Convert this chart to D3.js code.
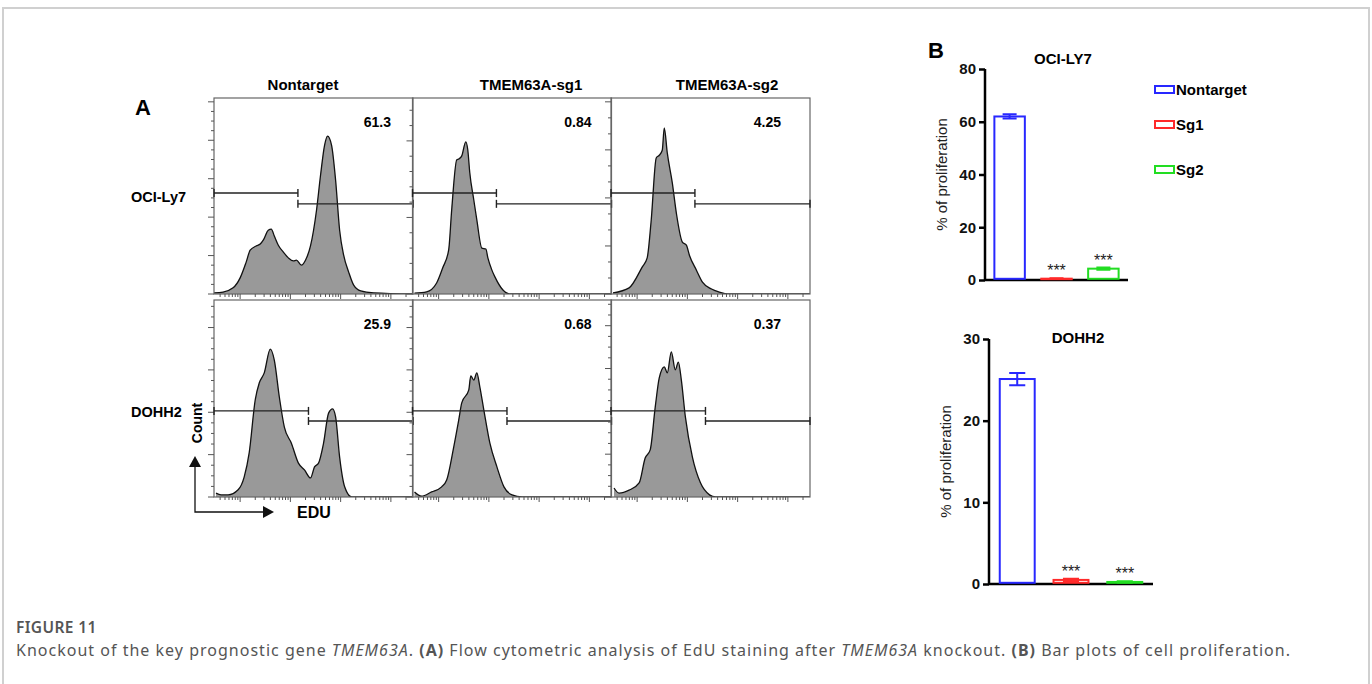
<!DOCTYPE html>
<html>
<head>
<meta charset="utf-8">
<script src="https://cdn.jsdelivr.net/npm/d3@7"></script>
<style>
  body { margin: 0; background: #fff; }
  svg { display: block; }
  .arial { font-family: "Liberation Sans", Arial, sans-serif; }
</style>
</head>
<body>
<svg id="fig" width="1372" height="684"></svg>
<script>
// ---- panel A data (x = log10 EDU intensity, y = count) ----
const columns = ["Nontarget", "TMEM63A-sg1", "TMEM63A-sg2"];
const rows = ["OCI-Ly7", "DOHH2"];
const gatePct = [["61.3", "0.84", "4.25"], ["25.9", "0.68", "0.37"]];
const gateCut = [3.15, 3.36];
const countMax = [[510, 640, 510], [465, 465, 460]];
const countStep = [[100, 250, 125], [100, 100, 100]];
const countMinor = [[4, 5, 3], [4, 4, 4]];

const histLy7Non = [[1.48,3],[1.66,5],[1.86,16],[2.00,42],[2.12,83],[2.20,114],[2.32,125],[2.40,130],
  [2.46,140],[2.56,166],[2.62,169],[2.68,151],[2.76,127],[2.86,109],[2.96,94],[3.06,86],[3.12,88],
  [3.22,75],[3.30,88],[3.40,125],[3.52,218],[3.60,309],[3.68,387],[3.74,411],[3.82,387],[3.90,296],
  [3.98,166],[4.06,101],[4.16,57],[4.26,23],[4.40,8],[4.66,3],[5.44,0]];
const histLy7Sg1 = [[1.52,3],[1.76,7],[1.96,36],[2.08,85],[2.20,144],[2.26,275],[2.36,438],[2.40,441],
  [2.46,451],[2.54,497],[2.58,471],[2.62,396],[2.70,307],[2.76,242],[2.86,150],[2.94,147],[2.98,118],
  [3.06,78],[3.12,56],[3.28,13],[3.42,0],[5.44,0]];
const histLy7Sg2 = [[1.52,3],[1.84,16],[2.10,70],[2.20,94],[2.28,192],[2.38,354],[2.44,361],[2.50,374],
  [2.54,432],[2.60,367],[2.70,289],[2.78,211],[2.90,135],[2.98,127],[3.04,101],[3.18,62],[3.30,31],
  [3.48,13],[3.64,5],[3.80,0],[5.44,0]];
const histDohNon = [[1.52,9],[1.62,5],[1.76,5],[1.96,17],[2.08,47],[2.18,104],[2.30,229],[2.38,269],
  [2.48,293],[2.60,349],[2.68,323],[2.78,236],[2.88,165],[3.02,127],[3.16,80],[3.28,64],[3.40,45],
  [3.48,71],[3.56,80],[3.66,127],[3.76,198],[3.84,208],[3.90,189],[3.98,94],[4.08,24],[4.22,0],[5.44,0]];
const histDohSg1 = [[1.52,12],[1.66,2],[1.86,12],[2.06,24],[2.16,40],[2.30,118],[2.40,182],[2.46,222],
  [2.60,253],[2.64,286],[2.70,276],[2.76,293],[2.82,260],[2.90,205],[3.02,127],[3.16,71],[3.30,24],
  [3.46,5],[3.66,0],[5.44,0]];
const histDohSg2 = [[1.54,21],[1.64,9],[1.84,16],[2.04,33],[2.16,91],[2.26,110],[2.36,210],[2.44,278],
  [2.54,304],[2.60,290],[2.68,339],[2.76,297],[2.82,315],[2.88,273],[2.96,187],[3.10,93],[3.26,33],
  [3.44,5],[3.56,0],[5.44,0]];
const histograms = [[histLy7Non, histLy7Sg1, histLy7Sg2], [histDohNon, histDohSg1, histDohSg2]];

// ---- panel B data ----
const groups = ["Nontarget", "Sg1", "Sg2"];
const ly7Mean = [62, 0.5, 4.3];
const ly7Err = [0.8, 0.15, 0.4];
const dohMean = [25.1, 0.5, 0.25];
const dohErr = [0.75, 0.15, 0.08];
const groupColors = ["#2828ff", "#ff2a2a", "#22dd22"];

const svg = d3.select("#fig");

// outer figure frame
svg.append("path").attr("d", "M3,700 V8 H1369 V700")
  .attr("fill", "none").attr("stroke", "#d0d0d0").attr("stroke-width", 2);

// ---------------- Panel A ----------------
const gA = svg.append("g").attr("class", "arial");
gA.append("text").text("A").attr("x", 135).attr("y", 115)
  .attr("font-size", 22).attr("font-weight", 700);

const colLeft = [214, 412.5, 611];
const colW = 199;
const rowTop = [98, 300];
const rowH = [196, 197];
const titleX = [303, 531, 727];
const pctRight = [22, 20, 29];
const gateLevel = [[0.515, 0.46], [0.437, 0.386]]; // fraction of panel height

columns.forEach((c, j) => {
  gA.append("text").text(c).attr("x", titleX[j]).attr("y", 90)
    .attr("text-anchor", "middle").attr("font-size", 15).attr("font-weight", 700);
});
rows.forEach((r, i) => {
  gA.append("text").text(r).attr("x", 131).attr("y", i === 0 ? 202 : 417)
    .attr("font-size", 14.5).attr("font-weight", 700);
});

const logMinor = [];
for (let k = 1; k <= 5; k++) for (let m = 1; m <= 9; m++) logMinor.push(Math.log10(m * Math.pow(10, k)));

rows.forEach((r, i) => {
  columns.forEach((c, j) => {
    const x = d3.scaleLinear().domain([1.48, 5.44]).range([colLeft[j], colLeft[j] + colW]);
    const y = d3.scaleLinear().domain([0, countMax[i][j]]).range([rowTop[i] + rowH[i], rowTop[i]]);
    const p = gA.append("g");
    const clipId = `clip${i}${j}`;
    p.append("clipPath").attr("id", clipId).append("rect")
      .attr("x", x.range()[0]).attr("y", rowTop[i]).attr("width", colW).attr("height", rowH[i]);

    const area = d3.area().x(d => x(d[0])).y0(y(0)).y1(d => y(d[1])).curve(d3.curveMonotoneX);
    const line = d3.line().x(d => x(d[0])).y(d => y(d[1])).curve(d3.curveMonotoneX);
    p.append("path").datum(histograms[i][j]).attr("d", area)
      .attr("fill", "#999").attr("clip-path", `url(#${clipId})`);
    p.append("path").datum(histograms[i][j]).attr("d", line)
      .attr("fill", "none").attr("stroke", "#111").attr("stroke-width", 1.3)
      .attr("clip-path", `url(#${clipId})`);

    p.append("rect").attr("x", x.range()[0]).attr("y", rowTop[i]).attr("width", colW).attr("height", rowH[i])
      .attr("fill", "none").attr("stroke", "#666").attr("stroke-width", 1.2);

    // y ticks (left, outward)
    const step = countStep[i][j] / countMinor[i][j];
    for (let v = 0, n = 0; v <= countMax[i][j] + 0.01; v += step, n++) {
      const major = n % countMinor[i][j] === 0;
      p.append("line").attr("x1", x.range()[0] - (major ? 6 : 3)).attr("x2", x.range()[0])
        .attr("y1", y(v)).attr("y2", y(v)).attr("stroke", "#555").attr("stroke-width", 1);
    }
    // x ticks (below, log style)
    logMinor.filter(v => v >= 1.48 && v <= 5.44).forEach(v => {
      const major = Math.abs(v - Math.round(v)) < 1e-6;
      p.append("line").attr("x1", x(v)).attr("x2", x(v))
        .attr("y1", y(0)).attr("y2", y(0) + (major ? 5 : 3)).attr("stroke", "#555").attr("stroke-width", 1);
    });

    // gates
    const gl = y(gateLevel[i][0] * countMax[i][j]);
    const gr = y(gateLevel[i][1] * countMax[i][j]);
    const gx = x(gateCut[i]);
    const drawGate = (x1, x2, yy) => {
      p.append("line").attr("x1", x1).attr("x2", x2).attr("y1", yy).attr("y2", yy)
        .attr("stroke", "#222").attr("stroke-width", 1.4);
      [x1, x2].forEach(xx => p.append("line").attr("x1", xx).attr("x2", xx)
        .attr("y1", yy - 4).attr("y2", yy + 4).attr("stroke", "#222").attr("stroke-width", 1.4));
    };
    drawGate(x.range()[0], gx, gl);
    drawGate(gx, x.range()[1], gr);

    p.append("text").text(gatePct[i][j]).attr("x", x.range()[1] - pctRight[j]).attr("y", rowTop[i] + 29)
      .attr("text-anchor", "end").attr("font-size", 14).attr("font-weight", 700);
  });
});

// Count / EDU arrows
gA.append("text").text("Count").attr("transform", "translate(202,423) rotate(-90)")
  .attr("text-anchor", "middle").attr("font-size", 14).attr("font-weight", 700);
gA.append("path").attr("d", "M195,466 V512 H264").attr("fill", "none").attr("stroke", "#111").attr("stroke-width", 1.3);
gA.append("path").attr("d", "M195,456 L189,467 L201,467 Z").attr("fill", "#111");
gA.append("path").attr("d", "M274,512 L263,506 L263,518 Z").attr("fill", "#111");
gA.append("text").text("EDU").attr("x", 297).attr("y", 518)
  .attr("font-size", 16).attr("font-weight", 700);

// ---------------- Panel B ----------------
const gB = svg.append("g").attr("class", "arial");
gB.append("text").text("B").attr("x", 928).attr("y", 58).attr("font-size", 22).attr("font-weight", 700);

function drawBars(cfg) {
  const g = gB.append("g");
  const x = d3.scaleBand().domain(groups).range([cfg.left, cfg.right]).paddingInner(0.35).paddingOuter(0.2);
  const y = d3.scaleLinear().domain([0, cfg.max]).range([cfg.bottom, cfg.top]);

  const ax = g.append("g").attr("transform", `translate(${cfg.left},0)`)
    .call(d3.axisLeft(y).tickValues(cfg.ticks).tickSize(6).tickPadding(3).tickFormat(d3.format("d")));
  ax.select(".domain").attr("stroke-width", 2.5).attr("d", `M0,${cfg.bottom + 1}V${cfg.top}`);
  ax.selectAll(".tick line").attr("stroke-width", 2.5);
  ax.selectAll(".tick text").attr("font-size", 15).attr("font-weight", 700)
    .attr("font-family", "Liberation Sans, Arial, sans-serif").attr("fill", "#111");
  g.append("line").attr("x1", cfg.left).attr("x2", cfg.right).attr("y1", cfg.bottom).attr("y2", cfg.bottom)
    .attr("stroke", "#000").attr("stroke-width", 2.5);

  groups.forEach((k, i) => {
    const bx = x(k), bw = x.bandwidth(), cx = bx + bw / 2;
    const top = y(cfg.mean[i]);
    g.append("rect").attr("x", bx).attr("y", top).attr("width", bw).attr("height", Math.max(0.5, y(0) - top - 1.2))
      .attr("fill", "none").attr("stroke", groupColors[i]).attr("stroke-width", 2);
    const e1 = y(cfg.mean[i] + cfg.err[i]), e2 = y(cfg.mean[i] - cfg.err[i]);
    const cw = bw * 0.23;
    g.append("path").attr("d", `M${cx},${e1}V${e2}M${cx - cw},${e1}H${cx + cw}M${cx - cw},${e2}H${cx + cw}`)
      .attr("stroke", groupColors[i]).attr("stroke-width", 2).attr("fill", "none");
    if (i > 0) {
      g.append("text").text("***").attr("x", cx).attr("y", e1 - 2)
        .attr("text-anchor", "middle").attr("font-size", 16).attr("fill", "#222");
    }
  });

  g.append("text").text(cfg.title).attr("x", cfg.titleX).attr("y", cfg.titleY)
    .attr("text-anchor", "middle").attr("font-size", 15).attr("font-weight", 700);
  g.append("text").text("% of proliferation")
    .attr("transform", `translate(${cfg.left - 38},${(cfg.top + cfg.bottom) / 2}) rotate(-90)`)
    .attr("text-anchor", "middle").attr("font-size", 15).attr("fill", "#222");
}

drawBars({ left: 985, right: 1128, top: 69, bottom: 280, max: 80, ticks: [0, 20, 40, 60, 80],
  mean: ly7Mean, err: ly7Err, title: "OCI-LY7", titleX: 1063, titleY: 64 });
drawBars({ left: 989, right: 1153, top: 339, bottom: 584, max: 30, ticks: [0, 10, 20, 30],
  mean: dohMean, err: dohErr, title: "DOHH2", titleX: 1078, titleY: 343 });

// legend
const legY = [90, 125, 170];
groups.forEach((k, i) => {
  gB.append("rect").attr("x", 1155).attr("y", legY[i] - 4).attr("width", 19).attr("height", 7)
    .attr("fill", "none").attr("stroke", groupColors[i]).attr("stroke-width", 2);
  gB.append("text").text(k).attr("x", 1176).attr("y", legY[i] + 5)
    .attr("font-size", 15).attr("font-weight", 700);
});

// ---------------- caption ----------------
const cap = svg.append("g").attr("font-family", "'Noto Sans', sans-serif");
cap.append("text").text("FIGURE 11").attr("x", 16).attr("y", 633)
  .attr("font-size", 15.5).attr("font-weight", 600).attr("fill", "#555").attr("letter-spacing", 0.4);
const t = cap.append("text").attr("x", 16).attr("y", 656).attr("font-size", 16).attr("fill", "#555")
  .attr("textLength", 1274).attr("lengthAdjust", "spacing");
[["Knockout of the key prognostic gene ", ""], ["TMEM63A", "i"], [". ", ""], ["(A)", "b"],
 [" Flow cytometric analysis of EdU staining after ", ""], ["TMEM63A", "i"], [" knockout. ", ""],
 ["(B)", "b"], [" Bar plots of cell proliferation.", ""]].forEach(([s, f]) => {
  const ts = t.append("tspan").text(s);
  if (f === "i") ts.attr("font-style", "italic");
  if (f === "b") ts.attr("font-weight", 700);
});
</script>
</body>
</html>
